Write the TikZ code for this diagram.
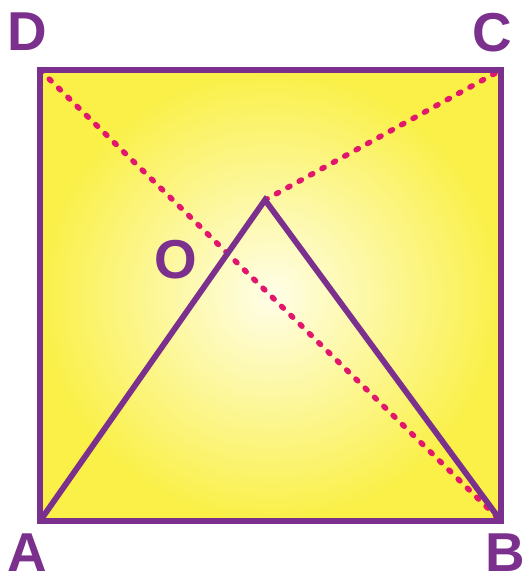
\documentclass[tikz,border=0pt]{standalone}
\usepackage{fontspec}
\setmainfont{Liberation Sans}
\usetikzlibrary{positioning}
\definecolor{sqpurple}{RGB}{122,48,140}
\definecolor{sqpink}{RGB}{226,22,108}
\definecolor{sqyellow}{RGB}{250,240,72}
\definecolor{sqlight}{RGB}{255,254,232}
\begin{document}
\begin{tikzpicture}[x=1bp,y=-1bp,
    edge/.style={draw=sqpurple, line width=5.8bp, line join=miter},
    diag/.style={draw=sqpink, line width=5.5bp, line cap=round, dash pattern=on 2.5bp off 10.5bp},
    lbl/.style={text=sqpurple, font=\bfseries\fontsize{55}{57}\selectfont, inner sep=0pt}
]
\useasboundingbox (0,0) rectangle (532,582);
\coordinate (A) at (40,521);
\coordinate (B) at (501,521);
\coordinate (C) at (501,70);
\coordinate (D) at (40,70);
\coordinate (P) at (265,200);

% square with soft glow
\shade[inner color=sqlight, outer color=sqyellow] (A) rectangle (C);

% dashed lines
\draw[diag] (D) -- (B);
\draw[diag] (P) -- (C);

% triangle and square
\draw[edge] (A) -- (P) -- (B);
\draw[edge] (A) -- (B) -- (C) -- (D) -- cycle;

\node[lbl] (labD) at (27,32) {D};
\node[lbl] (labC) at (492,33) {C};
\node[lbl] (labA) at (27,553) {A};
\node[lbl] (labB) at (505,553) {B};
\node[lbl] (labO) at (176,260) {O};
\end{tikzpicture}
\end{document}
